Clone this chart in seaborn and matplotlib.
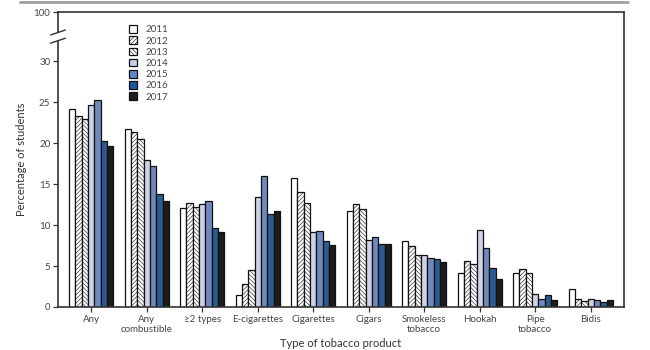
import matplotlib
matplotlib.use("Agg")
import matplotlib.pyplot as plt
from matplotlib.patches import Patch, Rectangle
from matplotlib.lines import Line2D
import matplotlib.transforms as mtransforms
import pandas as pd
import seaborn as sns

categories = ["Any", "Any\ncombustible", "\u22652 types", "E-cigarettes", "Cigarettes",
              "Cigars", "Smokeless\ntobacco", "Hookah", "Pipe\ntobacco", "Bidis"]
years = ["2011", "2012", "2013", "2014", "2015", "2016", "2017"]
v2011 = [24.2, 21.7, 12.1, 1.5, 15.8, 11.7, 8.0, 4.2, 4.1, 2.2]
v2012 = [23.3, 21.3, 12.7, 2.8, 14.0, 12.6, 7.4, 5.6, 4.6, 1.0]
v2013 = [22.9, 20.5, 12.2, 4.5, 12.7, 12.0, 6.4, 5.3, 4.2, 0.7]
v2014 = [24.6, 18.0, 12.6, 13.4, 9.2, 8.2, 6.3, 9.4, 1.6, 1.0]
v2015 = [25.3, 17.2, 12.9, 16.0, 9.3, 8.6, 6.0, 7.2, 1.0, 0.8]
v2016 = [20.2, 13.8, 9.6, 11.3, 8.0, 7.7, 5.8, 4.8, 1.5, 0.6]
v2017 = [19.6, 12.9, 9.2, 11.7, 7.6, 7.7, 5.5, 3.4, 0.9, 0.8]
yticks = [0, 5, 10, 15, 20, 25, 30]
top_label = "100"

series = [v2011, v2012, v2013, v2014, v2015, v2016, v2017]
colors = ["#ffffff", "#ffffff", "#ffffff", "#c9d1ea", "#6385c9", "#1b5aa2", "#1c1c1c"]
hatches = ["", "////////", "\\\\\\\\\\\\\\\\", "", "", "", ""]

rows = []
for y, vals in zip(years, series):
    for c, v in zip(categories, vals):
        rows.append({"cat": c, "year": y, "val": v})
df = pd.DataFrame(rows)

sns.set_style("white")
plt.rcParams["font.family"] = ["Lato", "DejaVu Sans"]
plt.rcParams["hatch.linewidth"] = 0.4

fig = plt.figure(figsize=(6.5, 3.5), dpi=100)
ax = fig.add_axes([58 / 650, 1 - 307 / 350, 566 / 650, 295 / 350])

sns.barplot(data=df, x="cat", y="val", hue="year", order=categories, hue_order=years,
            palette=dict(zip(years, colors)), edgecolor="#111111", linewidth=0.9,
            width=0.8, gap=0, ax=ax, legend=False)

for cont, h in zip(ax.containers, hatches):
    for bar in cont:
        bar.set_hatch(h)

ax.set_xlim(-0.6, 9.6)
ymax = 36
ax.set_ylim(0, ymax)
ax.set_yticks(yticks + [ymax])
ax.set_yticklabels([str(t) for t in yticks] + [top_label])

for s in ["left", "bottom", "right", "top"]:
    ax.spines[s].set_visible(True)
    ax.spines[s].set_color("#333333")
    ax.spines[s].set_linewidth(1.2)

ax.tick_params(axis="both", which="both", direction="out", length=3.5, width=0.9,
               color="#333333", labelsize=7, labelcolor="#444444", pad=2)
ax.tick_params(axis="y", left=True)
ax.tick_params(axis="x", bottom=True)
ax.set_xlabel("Type of tobacco product", fontsize=8, color="#333333", labelpad=3)
ax.set_ylabel("Percentage of students", fontsize=8, color="#333333", labelpad=5)

# axis break on the left spine
trans = mtransforms.blended_transform_factory(ax.transAxes, ax.transData)
ax.add_patch(Rectangle((-0.01, 32.6), 0.02, 1.0, transform=trans, facecolor="white",
                       edgecolor="none", clip_on=False, zorder=5))
for yb in (32.5, 33.5):
    ax.add_line(Line2D([-0.013, 0.013], [yb - 0.3, yb + 0.3], transform=trans,
                       color="#333333", lw=1.0, clip_on=False, zorder=6))

handles = [Patch(facecolor=c, edgecolor="#111111", hatch=h, linewidth=0.9, label=y)
           for c, h, y in zip(colors, hatches, years)]
leg = ax.legend(handles=handles, loc="upper left", bbox_to_anchor=(0.11, 0.985),
                frameon=False, fontsize=7, handlelength=0.85, handleheight=0.85,
                handletextpad=0.8, labelspacing=0.2)
for t in leg.get_texts():
    t.set_color("#444444")

fig.add_artist(Line2D([20 / 650, 628 / 650], [1 - 2 / 350, 1 - 2 / 350],
                      transform=fig.transFigure, color="#a0a0a0", lw=2))

fig.savefig("out.png", dpi=100)
